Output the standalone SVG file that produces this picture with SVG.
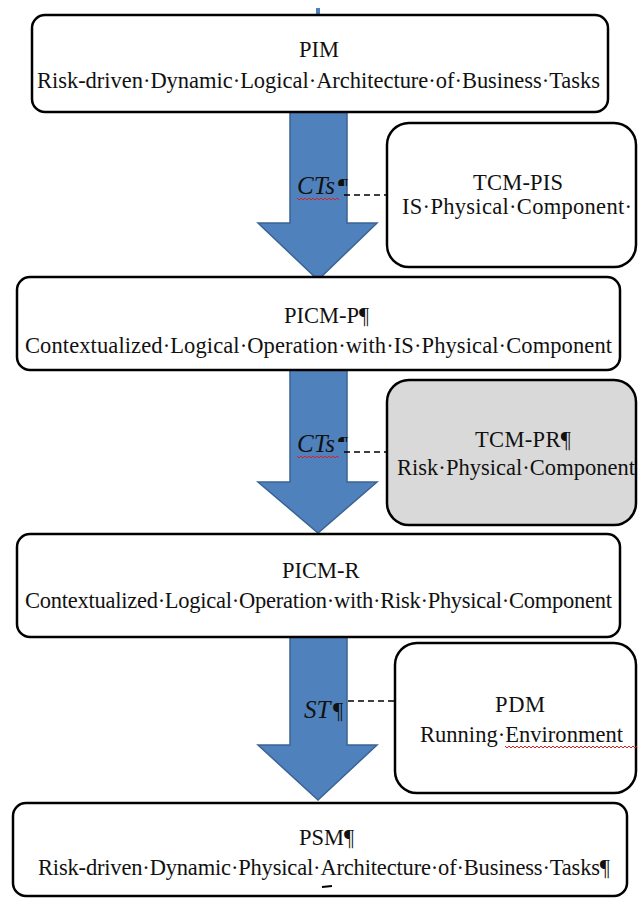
<svg xmlns="http://www.w3.org/2000/svg" width="638" height="902" viewBox="0 0 638 902">
<style>
  .box { fill: #ffffff; stroke: #000000; stroke-width: 2.5; }
  .grey { fill: #d9d9d9; }
  .t { font-family: "Liberation Serif", "Times New Roman", serif; font-size: 22.5px; fill: #111111; }
  .c { text-anchor: middle; }
  .it { font-style: italic; font-size: 25px; }
  .arrow { fill: #4f81bd; stroke: #3b6393; stroke-width: 1.5; }
  .dash { stroke: #000000; stroke-width: 1.5; stroke-dasharray: 6 4; fill: none; }
  .sq { stroke: #e02020; stroke-width: 1; fill: none; }
</style>
<defs>
  <clipPath id="pc1"><rect x="337" y="172" width="14" height="14"/></clipPath>
  <clipPath id="pc2"><rect x="337" y="429" width="14" height="13"/></clipPath>
</defs>
<rect width="638" height="902" fill="#ffffff"/>

<g id="connectors">
  <rect x="316" y="8" width="4" height="9" fill="#4f81bd"/>
  <path class="arrow" d="M290,105 L347,105 L347,223 L377,223 L318,280 L258,223 L290,223 Z"/>
  <path class="arrow" d="M290,365 L347,365 L347,482 L377,482 L318,533 L258,482 L290,482 Z"/>
  <path class="arrow" d="M290,632 L347,632 L347,745 L377,745 L318,800 L258,745 L290,745 Z"/>
  <line class="dash" x1="344" y1="195" x2="387" y2="195"/>
  <line class="dash" x1="344" y1="452" x2="387" y2="452"/>
  <line class="dash" x1="348" y1="701" x2="395" y2="701"/>
  <g id="label-cts1">
    <text class="t it" x="297" y="194">CTs</text>
    <text class="t" x="338" y="194" clip-path="url(#pc1)">¶</text>
    <path class="sq" d="M297,198 l2,2 l2,-2 l2,2 l2,-2 l2,2 l2,-2 l2,2 l2,-2 l2,2 l2,-2 l2,2 l2,-2 l2,2 l2,-2 l2,2 l2,-2 l2,2 l2,-2 l2,2 l2,-2 l2,2"/>
  </g>
  <g id="label-cts2">
    <text class="t it" x="297" y="452">CTs</text>
    <text class="t" x="338" y="452" clip-path="url(#pc2)">¶</text>
    <path class="sq" d="M297,456 l2,2 l2,-2 l2,2 l2,-2 l2,2 l2,-2 l2,2 l2,-2 l2,2 l2,-2 l2,2 l2,-2 l2,2 l2,-2 l2,2 l2,-2 l2,2 l2,-2 l2,2 l2,-2 l2,2"/>
  </g>
  <g id="label-st">
    <text class="t it" x="304" y="718">ST</text>
    <text class="t" x="333" y="718">¶</text>
  </g>
</g>

<g id="node-pim">
  <rect class="box" x="32" y="15" width="576" height="97" rx="13"/>
  <text class="t c" x="319" y="57">PIM</text>
  <text class="t" x="37" y="88" textLength="563" lengthAdjust="spacing">Risk-driven·Dynamic·Logical·Architecture·of·Business·Tasks</text>
</g>

<g id="node-tcm-pis">
  <rect class="box" x="387" y="123" width="249" height="144" rx="22"/>
  <text class="t c" x="518" y="190" textLength="90" lengthAdjust="spacing">TCM-PIS</text>
  <text class="t" x="402" y="214" textLength="230" lengthAdjust="spacing">IS·Physical·Component·</text>
</g>

<g id="node-picm-p">
  <rect class="box" x="17" y="277" width="603" height="93" rx="13"/>
  <text class="t" x="284" y="323">PICM-P¶</text>
  <text class="t" x="25" y="353" textLength="587" lengthAdjust="spacing">Contextualized·Logical·Operation·with·IS·Physical·Component</text>
</g>

<g id="node-tcm-pr">
  <rect class="box grey" x="387" y="380" width="249" height="145" rx="22"/>
  <text class="t" x="475" y="447" textLength="96" lengthAdjust="spacing">TCM-PR¶</text>
  <text class="t" x="397" y="475" textLength="238" lengthAdjust="spacing">Risk·Physical·Component</text>
</g>

<g id="node-picm-r">
  <rect class="box" x="17" y="534" width="603" height="103" rx="13"/>
  <text class="t" x="282" y="578">PICM-R</text>
  <text class="t" x="25" y="608" textLength="587" lengthAdjust="spacing">Contextualized·Logical·Operation·with·Risk·Physical·Component</text>
</g>

<g id="node-pdm">
  <rect class="box" x="395" y="643" width="241" height="150" rx="22"/>
  <text class="t c" x="520" y="712" textLength="50" lengthAdjust="spacing">PDM</text>
  <text class="t" x="420" y="742" textLength="203" lengthAdjust="spacing">Running·Environment</text>
  <path class="sq" d="M505,746 l2,2 l2,-2 l2,2 l2,-2 l2,2 l2,-2 l2,2 l2,-2 l2,2 l2,-2 l2,2 l2,-2 l2,2 l2,-2 l2,2 l2,-2 l2,2 l2,-2 l2,2 l2,-2 l2,2 l2,-2 l2,2 l2,-2 l2,2 l2,-2 l2,2 l2,-2 l2,2 l2,-2 l2,2 l2,-2 l2,2 l2,-2 l2,2 l2,-2 l2,2 l2,-2 l2,2 l2,-2 l2,2 l2,-2 l2,2 l2,-2 l2,2 l2,-2 l2,2 l2,-2 l2,2 l2,-2 l2,2 l2,-2 l2,2 l2,-2 l2,2 l2,-2 l2,2 l2,-2 l2,2 l2,-2 l2,2 l2,-2 l2,2 l2,-2 l2,2 l2,-2"/>
</g>

<g id="node-psm">
  <rect class="box" x="13" y="803" width="614" height="93" rx="13"/>
  <text class="t" x="299" y="845">PSM¶</text>
  <text class="t" x="38" y="875" textLength="572" lengthAdjust="spacing">Risk-driven·Dynamic·Physical·Architecture·of·Business·Tasks¶</text>
  <line x1="322" y1="887" x2="332" y2="886" stroke="#000000" stroke-width="2"/>
</g>
</svg>
